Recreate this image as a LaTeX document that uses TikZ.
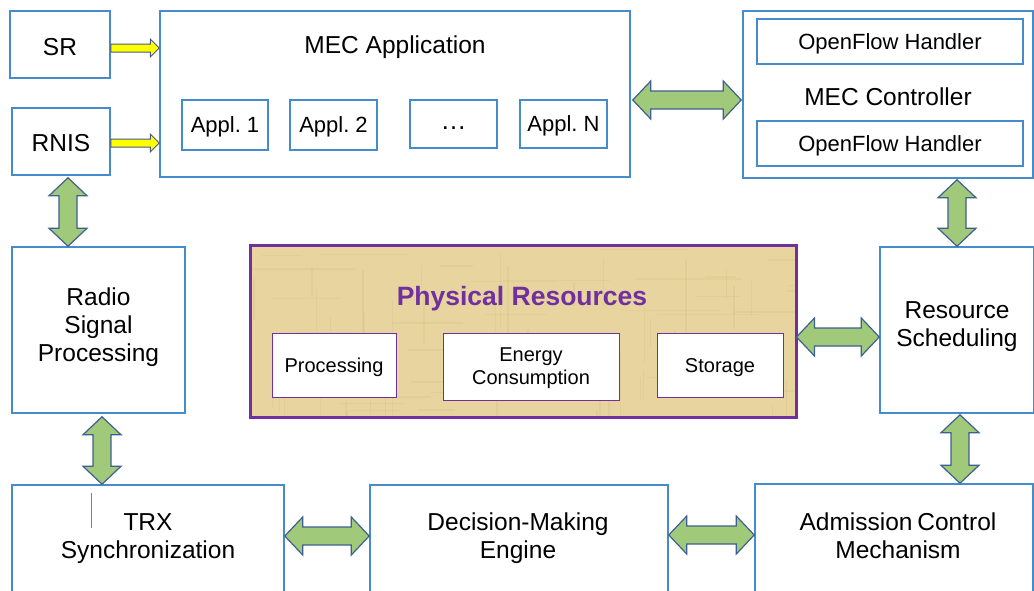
\documentclass[tikz,border=0pt]{standalone}
\usepackage{fontspec}
\setmainfont{Liberation Sans}
\usetikzlibrary{calc}
\frenchspacing
\definecolor{bxblue}{RGB}{70,140,205}
\definecolor{grfill}{RGB}{160,201,122}
\definecolor{grline}{RGB}{62,96,145}
\definecolor{yfill}{RGB}{255,255,0}
\definecolor{yline}{RGB}{70,90,130}
\definecolor{purp}{RGB}{112,48,160}
\definecolor{tan}{RGB}{231,212,158}
\definecolor{tandark}{RGB}{205,180,120}
\newcommand\fs[2]{\fontsize{#1}{#2}\selectfont}
\newcommand\dn[2]{\raisebox{-#1pt}[\height][\depth]{#2}}
\tikzset{
  box/.style={draw=bxblue, line width=1.5pt, fill=white, rectangle, inner sep=0pt, align=center, font=\fs{24.5}{28}},
  appbox/.style={box, font=\fs{22}{26}},
  inbox/.style={draw=purp, line width=1pt, fill=white, rectangle, inner sep=0pt, align=center, font=\fs{20}{23}},
  physbox/.style={draw=purp, line width=3pt, rectangle, inner sep=0pt},
  lbl/.style={inner sep=0pt, align=center, font=\fs{24.5}{28}},
  garrow/.style={fill=grfill, draw=grline, line width=1.2pt, line join=miter},
  yarrow/.style={fill=yfill, draw=yline, line width=1pt, line join=miter}
}
\newcommand\hdbl[2]{\draw[garrow] let \p1=#1, \p2=#2 in
  (\x1,\y1) -- (\x1+18pt,\y1+19pt) -- (\x1+18pt,\y1+9pt) -- (\x2-18pt,\y1+9pt) -- (\x2-18pt,\y1+19pt)
  -- (\x2,\y1) -- (\x2-18pt,\y1-19pt) -- (\x2-18pt,\y1-9pt) -- (\x1+18pt,\y1-9pt) -- (\x1+18pt,\y1-19pt) -- cycle;}
\newcommand\vdbl[2]{\draw[garrow] let \p1=#1, \p2=#2 in
  (\x1,\y1) -- (\x1+19pt,\y1-18pt) -- (\x1+9pt,\y1-18pt) -- (\x1+9pt,\y2+18pt) -- (\x1+19pt,\y2+18pt)
  -- (\x1,\y2) -- (\x1-19pt,\y2+18pt) -- (\x1-9pt,\y2+18pt) -- (\x1-9pt,\y1-18pt) -- (\x1-19pt,\y1-18pt) -- cycle;}
\newcommand\yarr[2]{\draw[yarrow] let \p1=#1, \p2=#2 in
  (\x1,\y1+4pt) -- (\x2-9pt,\y1+4pt) -- (\x2-9pt,\y1+9pt) -- (\x2,\y1) -- (\x2-9pt,\y1-9pt) -- (\x2-9pt,\y1-4pt) -- (\x1,\y1-4pt) -- cycle;}
\begin{document}
\begin{tikzpicture}[x=1pt,y=-1pt]
\useasboundingbox (0,0) rectangle (1034,590);
\clip (0,0) rectangle (1034,590);
\fill[white] (0,0) rectangle (1034,590);

% top row
\node[box, minimum width=100, minimum height=67] (sr) at (60,44.5) {\dn{3}{SR}};
\node[box, minimum width=98, minimum height=67] (rnis) at (61,141.5) {\dn{2}{RNIS}};
\node[box, minimum width=470, minimum height=166] (app) at (395,94) {};
\node[lbl] (appT) at (395,47) {MEC Application};
\node[appbox, minimum width=86, minimum height=50] (a1) at (225,125) {\dn{2}{Appl. 1}};
\node[appbox, minimum width=87, minimum height=50] (a2) at (333.5,125) {\dn{2}{Appl. 2}};
\node[appbox, minimum width=87, minimum height=48] (adots) at (453.5,124) {\fs{26}{30}\dn{4}{\dots}};
\node[appbox, minimum width=87, minimum height=48] (aN) at (563.5,124) {\dn{2}{Appl. N}};

\node[box, minimum width=290, minimum height=167] (ctrl) at (888,94.5) {};
\node[lbl] (ctrlT) at (888,97) {MEC Controller};
\node[appbox, minimum width=266, minimum height=45] (of1) at (890,41.5) {\dn{2}{OpenFlow Handler}};
\node[appbox, minimum width=266, minimum height=45] (of2) at (890,143.5) {\dn{2}{OpenFlow Handler}};

% middle row
\node[box, minimum width=173, minimum height=166] (radio) at (98.5,330) {};
\node[lbl] (radioT) at (98.5,327) {Radio\\Signal\\Processing};
\node[physbox, minimum width=543, minimum height=169] (phys) at (523.5,331.5) {};
\begin{scope}
  \clip (phys.south west) rectangle (phys.north east);
  \fill[tan] (phys.south west) rectangle (phys.north east);
  \pgfmathsetseed{7}
  \foreach \i in {1,...,45}{
    \pgfmathsetmacro\xx{252+543*rnd}
    \pgfmathsetmacro\yy{247+169*rnd}
    \pgfmathsetmacro\ll{20+60*rnd}
    \draw[tandark, opacity=0.2, line width=1.5pt] (\xx,\yy) -- ++(0,\ll);
  }
  \foreach \i in {1,...,35}{
    \pgfmathsetmacro\xx{252+543*rnd}
    \pgfmathsetmacro\yy{247+169*rnd}
    \pgfmathsetmacro\ll{30+90*rnd}
    \draw[tandark, opacity=0.18, line width=1.5pt] (\xx,\yy) -- ++(\ll,0);
  }
\end{scope}
\draw[purp, line width=3pt] (phys.south west) rectangle (phys.north east);
\node[inner sep=0pt, font=\fs{26.5}{30}\bfseries, text=purp] (physT) at (522,299) {Physical Resources};
\node[inbox, minimum width=124, minimum height=64] (proc) at (334,365) {\dn{2.5}{Processing}};
\node[inbox, minimum width=176, minimum height=67] (energy) at (531,366.5) {\dn{2}{\begin{tabular}{@{}c@{}}Energy\\Consumption\end{tabular}}};
\node[inbox, minimum width=126, minimum height=64] (stor) at (720,365) {\dn{2.5}{Storage}};
\node[box, minimum width=154, minimum height=166] (sched) at (957,330) {};
\node[lbl] (schedT) at (957,327) {Resource\\Scheduling};

% bottom row
\node[box, minimum width=272, minimum height=110] (trx) at (148,540) {};
\node[lbl] (trxT) at (148,539) {TRX\\Synchronization};
\node[box, minimum width=298, minimum height=110] (dme) at (519,540) {};
\node[lbl] (dmeT) at (518,538) {Decision-Making\\Engine};
\node[box, minimum width=278, minimum height=111] (acm) at (894,539.5) {};
\node[lbl] (acmT) at (898,536) {Admission\hspace{-2pt} Control\\Mechanism};
\coordinate (tick1) at (91,493);
\coordinate (tick2) at (91,528);
\draw[gray, line width=0.8pt] (tick1) -- (tick2);

% yellow arrows
\yarr{($(sr.east)+(0,3.5)$)}{($(app.west |- sr.east)+(0,3.5)$)}
\yarr{($(rnis.east)+(0,1.5)$)}{($(app.west |- rnis.east)+(0,1.5)$)}

% green arrows
\hdbl{($(app.east)+(2,6)$)}{($(ctrl.west)+(-1,6)$)}
\hdbl{($(phys.east)+(0,5.5)$)}{($(sched.west)+(0,5.5)$)}
\hdbl{($(trx.east)+(0,-4)$)}{($(dme.west)+(0,-4)$)}
\hdbl{($(dme.east)+(0,-5)$)}{($(acm.west)+(0,-5)$)}
\vdbl{($(rnis.south)+(7,2)$)}{(radio.north)}
\vdbl{($(ctrl.south -| sched.north)+(0,1)$)}{(sched.north)}
\vdbl{($(radio.south)+(3.5,3)$)}{(trx.north)}
\vdbl{($(sched.south)+(3,1)$)}{($(acm.north)+(0,0)$)}
\end{tikzpicture}
\end{document}
